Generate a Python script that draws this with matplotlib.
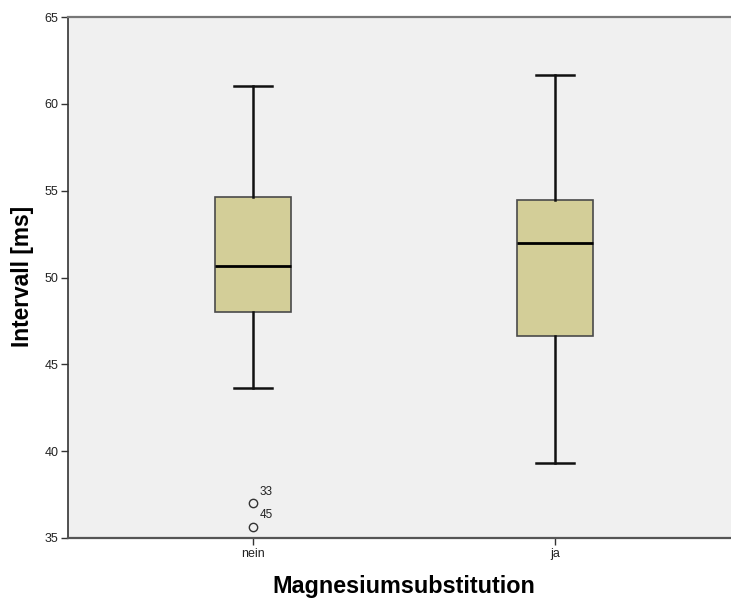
import matplotlib
matplotlib.use("Agg")
import matplotlib.pyplot as plt

plt.rcParams['font.family'] = ['Liberation Sans', 'DejaVu Sans']

categories = ["nein", "ja"]
whisker_low = [43.65, 39.3]
q1 = [48.0, 46.65]
median = [50.66, 51.98]
q3 = [54.65, 54.47]
whisker_high = [61.0, 61.65]
outlier_values = [[37.0, 35.65], []]
outlier_labels = [["33", "45"], []]

fig = plt.figure(figsize=(7.31, 5.98), dpi=100)
ax = fig.add_axes([68/731, 60/598, 1 - 68/731, (538-17)/598])
ax.set_facecolor('#F0F0F0')

stats = []
for i, c in enumerate(categories):
    stats.append(dict(label=c, whislo=whisker_low[i], q1=q1[i], med=median[i],
                      q3=q3[i], whishi=whisker_high[i], fliers=outlier_values[i]))

positions = list(range(len(categories)))
ax.bxp(stats, positions=positions, widths=0.252, patch_artist=True,
       showfliers=True,
       boxprops=dict(facecolor='#D3CE98', edgecolor='#4a4a4a', linewidth=1.2),
       medianprops=dict(color='black', linewidth=2.0),
       whiskerprops=dict(color='#111111', linewidth=1.8),
       capprops=dict(color='#111111', linewidth=1.8),
       capwidths=0.126,
       flierprops=dict(marker='o', markersize=6, markerfacecolor='none',
                       markeredgecolor='#333333', markeredgewidth=1.0))

for i, (vals, labs) in enumerate(zip(outlier_values, outlier_labels)):
    for v, l in zip(vals, labs):
        ax.annotate(l, (positions[i], v), xytext=(5, 4), textcoords='offset points',
                    fontsize=8.5, color='#222222', ha='left', va='bottom')

ax.set_xlim(-0.6126, 1.583)
ax.set_ylim(35, 65)
ax.set_yticks([35, 40, 45, 50, 55, 60, 65])
ax.set_xticks(positions)
ax.set_xticklabels(categories)
ax.tick_params(axis='both', direction='out', length=5, width=1, color='#333333',
               labelsize=9, labelcolor='#222222', pad=2)

ax.spines['left'].set_color('#333333')
ax.spines['left'].set_linewidth(1.2)
ax.spines['bottom'].set_color('#555555')
ax.spines['bottom'].set_linewidth(1.6)
ax.spines['top'].set_color('#777777')
ax.spines['top'].set_linewidth(1.6)
ax.spines['right'].set_visible(False)

ax.set_xlabel('Magnesiumsubstitution', fontsize=16.8, fontweight='bold', va='center')
ax.xaxis.set_label_coords(0.507, -0.094)
ax.set_ylabel('Intervall [ms]', fontsize=16.4, fontweight='bold', va='center')
ax.yaxis.set_label_coords(-0.0679, 0.502)

fig.savefig('out.png', dpi=100)
